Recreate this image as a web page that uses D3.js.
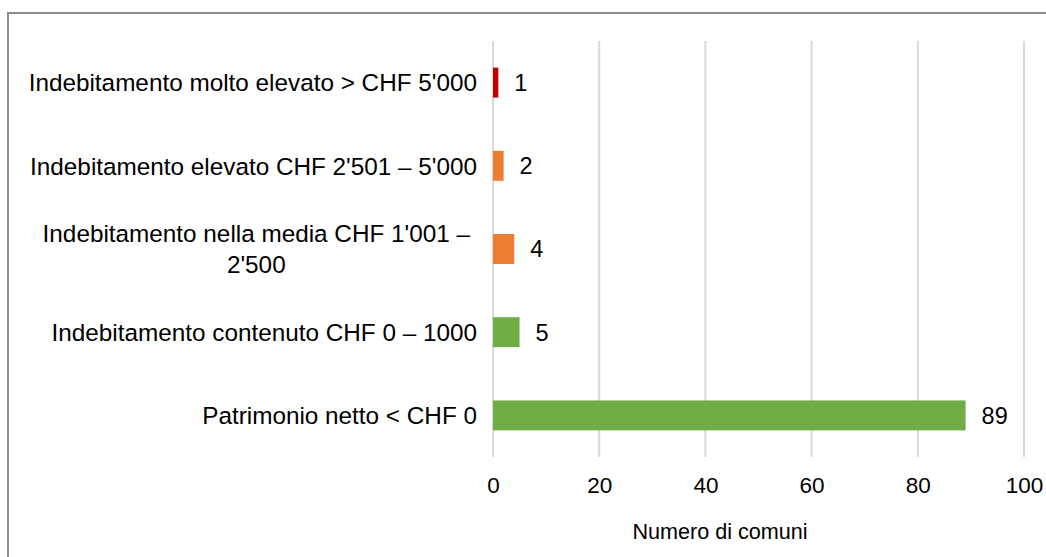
<!DOCTYPE html>
<html>
<head>
<meta charset="utf-8">
<script src="https://cdn.jsdelivr.net/npm/d3@7"></script>
<style>
  body { margin: 0; background: #fff; }
  svg { display: block; font-family: "Liberation Sans", Arial, sans-serif; }
</style>
</head>
<body>
<div id="vis"></div>
<script>
const FRAME_WIDTH = 1046;
const FRAME_HEIGHT = 557;

// data, top row first
const CATEGORIES = [
  ["Indebitamento molto elevato > CHF 5'000"],
  ["Indebitamento elevato CHF 2'501 \u2013 5'000"],
  ["Indebitamento nella media CHF 1'001 \u2013", "2'500"],
  ["Indebitamento contenuto CHF 0 \u2013 1000"],
  ["Patrimonio netto < CHF 0"]
];
const VALUES = [1, 2, 4, 5, 89];
const BAR_COLORS = ["#c00000", "#ed7d31", "#ed7d31", "#70ad47", "#70ad47"];
const X_TICKS = [0, 20, 40, 60, 80, 100];
const X_TITLE = "Numero di comuni";

const PLOT = {left: 493, right: 1024, top: 41, bottom: 457};

const svg = d3.select("#vis")
  .append("svg")
    .attr("width", FRAME_WIDTH)
    .attr("height", FRAME_HEIGHT);

// outer frame of the chart
svg.append("rect")
  .attr("x", 8).attr("y", 13)
  .attr("width", FRAME_WIDTH + 20).attr("height", FRAME_HEIGHT + 20)
  .attr("fill", "none")
  .attr("stroke", "#8c8c8c")
  .attr("stroke-width", 2);

const X_SCALE = d3.scaleLinear()
  .domain([0, 100])
  .range([PLOT.left, PLOT.right]);

const Y_SCALE = d3.scaleBand()
  .domain(d3.range(VALUES.length))
  .range([PLOT.top, PLOT.bottom])
  .paddingInner(0.64)
  .paddingOuter(0.32);

// gridlines
svg.append("g")
  .selectAll("line")
  .data(X_TICKS)
  .enter()
  .append("line")
    .attr("x1", (d) => X_SCALE(d))
    .attr("x2", (d) => X_SCALE(d))
    .attr("y1", PLOT.top)
    .attr("y2", PLOT.bottom)
    .attr("stroke", "#d9d9d9")
    .attr("stroke-width", 2);

// x axis labels (no domain line, no ticks)
const xAxis = svg.append("g")
  .attr("transform", "translate(0," + (PLOT.bottom + 20) + ")")
  .call(d3.axisBottom(X_SCALE).tickValues(X_TICKS).tickSize(0).tickPadding(0));
xAxis.select(".domain").remove();
xAxis.selectAll("text")
  .attr("font-size", "22.5px")
  .attr("fill", "#000")
  .attr("dy", "0.71em")
  .attr("font-family", "'Liberation Sans', Arial, sans-serif");

// bars
svg.append("g")
  .selectAll("rect")
  .data(VALUES)
  .enter()
  .append("rect")
    .attr("x", X_SCALE(0))
    .attr("y", (d, i) => Y_SCALE(i))
    .attr("width", (d) => X_SCALE(d) - X_SCALE(0))
    .attr("height", Y_SCALE.bandwidth())
    .attr("fill", (d, i) => BAR_COLORS[i]);

// value labels
svg.append("g")
  .selectAll("text")
  .data(VALUES)
  .enter()
  .append("text")
    .attr("x", (d) => X_SCALE(d) + 16)
    .attr("y", (d, i) => Y_SCALE(i) + Y_SCALE.bandwidth() / 2)
    .attr("dy", "0.36em")
    .attr("font-size", "23.5px")
    .text((d) => d);

// category labels, right aligned; wrapped lines centred on each other
const labelRight = PLOT.left - 16;
const lineH = 31;
CATEGORIES.forEach((lines, i) => {
  const cy = Y_SCALE(i) + Y_SCALE.bandwidth() / 2;
  const g = svg.append("g");
  const texts = lines.map((line, k) => g.append("text")
    .attr("font-size", "24.3px")
    .attr("y", cy + (k - (lines.length - 1) / 2) * lineH)
    .attr("dy", "0.36em")
    .text(line));
  const widths = texts.map((t) => t.node().getComputedTextLength());
  const maxW = d3.max(widths);
  if (lines.length === 1) {
    texts[0].attr("text-anchor", "end").attr("x", labelRight);
  } else {
    texts.forEach((t) => {
      t.attr("text-anchor", "middle").attr("x", labelRight - 7 - maxW / 2);
    });
  }
});

// axis title
svg.append("text")
  .attr("x", 720)
  .attr("y", 539)
  .attr("text-anchor", "middle")
  .attr("font-size", "21.6px")
  .text(X_TITLE);
</script>
</body>
</html>
